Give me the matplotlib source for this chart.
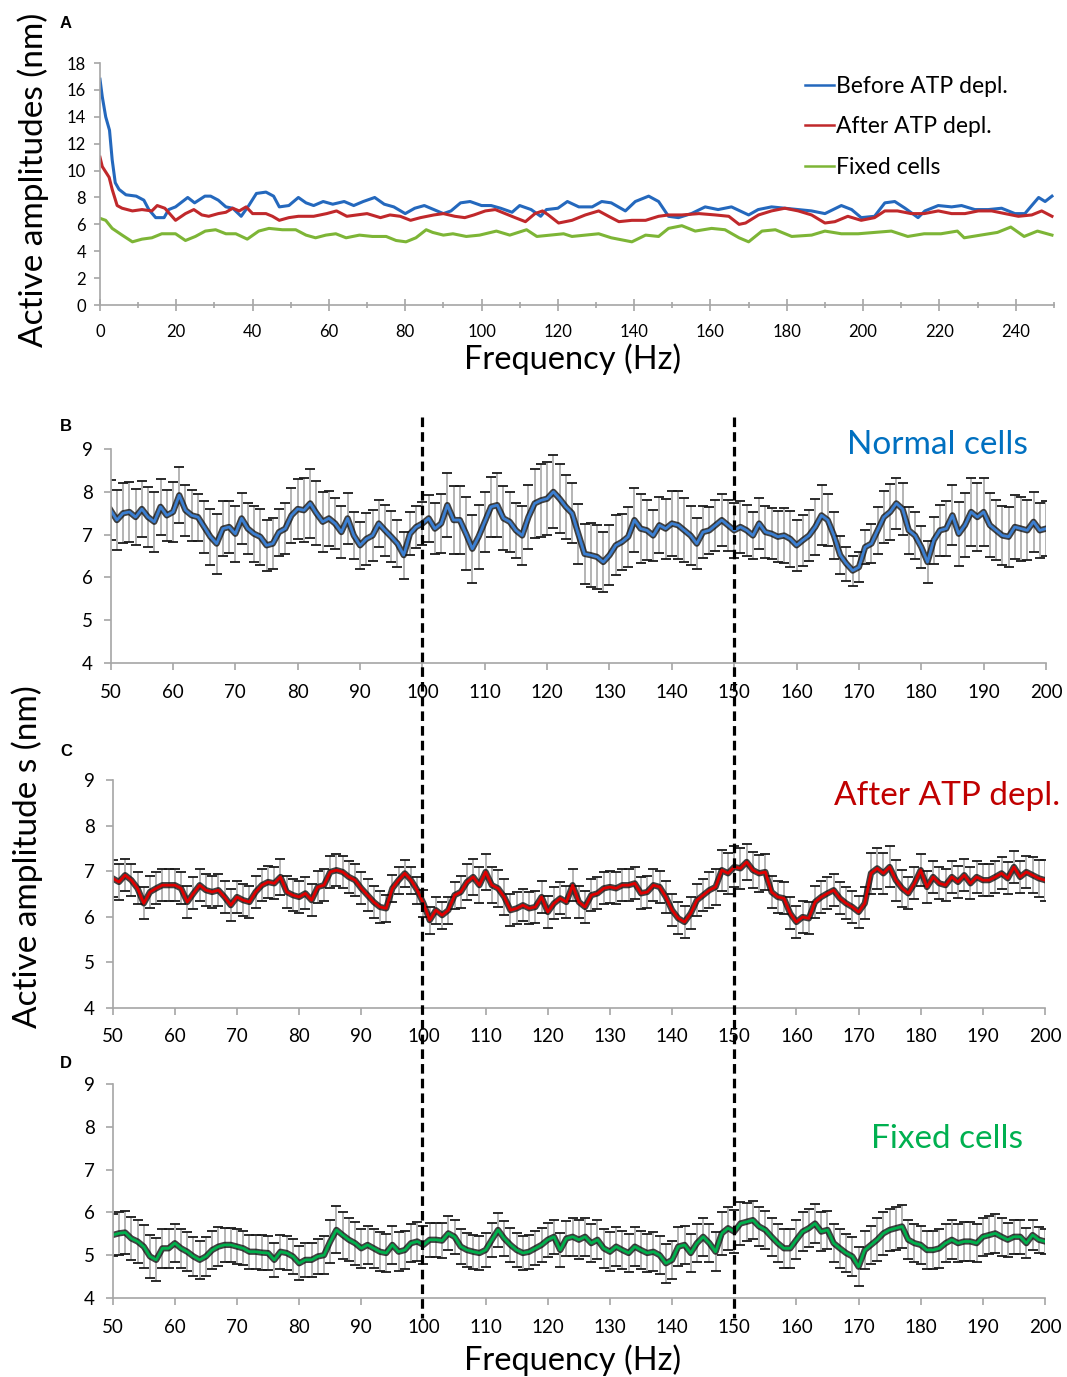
import numpy as np
import matplotlib
matplotlib.use('Agg')
import matplotlib.pyplot as plt
from matplotlib.lines import Line2D
from matplotlib.ticker import MultipleLocator
from matplotlib.transforms import blended_transform_factory

plt.rcParams['font.family'] = ['Lato', 'DejaVu Sans']

# ================= DATA =================
# panel A: (frequency Hz, amplitude nm)
before_atp = [(0, 16.8), (0.6, 15.5), (1.5, 14.0), (2.5, 13.0), (3.2, 10.8), (4, 9.1), (5, 8.6),
              (6.8, 8.2), (9.5, 8.1), (11.5, 7.8), (12.8, 7.1), (14.6, 6.5), (16.8, 6.5), (18, 7.1),
              (19.8, 7.3), (23, 8.0), (24.8, 7.6), (27.5, 8.1), (29, 8.1), (31, 7.8), (33, 7.3),
              (34.8, 7.2), (37, 6.6), (39, 7.4), (41, 8.3), (43.5, 8.4), (45.5, 8.1), (47, 7.3),
              (49.5, 7.4), (52, 8.0), (54, 7.6), (56, 7.4), (58.5, 7.7), (61, 7.5), (64, 7.7),
              (66.5, 7.4), (69, 7.7), (72, 8.0), (74.5, 7.5), (77, 7.3), (80, 6.8), (82.5, 7.2),
              (85, 7.4), (87.5, 7.1), (90, 6.8), (92, 7.0), (94.5, 7.6), (97, 7.7), (100, 7.4),
              (102.5, 7.4), (105, 7.2), (108, 6.9), (110, 7.4), (113, 7.1), (115.5, 6.6), (117, 7.1),
              (120, 7.2), (122.5, 7.7), (125.5, 7.3), (129, 7.3), (131.5, 7.7), (134, 7.6), (137.7, 7.0),
              (140.3, 7.7), (143.8, 8.1), (146.4, 7.7), (149, 6.6), (151.6, 6.5), (155, 6.8), (158.6, 7.3),
              (162, 7.1), (165.5, 7.3), (170, 6.7), (172.5, 7.1), (176, 7.3), (179.5, 7.2), (183, 7.1),
              (186.5, 7.0), (190, 6.8), (194.3, 7.4), (197, 7.1), (199.5, 6.5), (203, 6.6), (205.7, 7.6),
              (208.3, 7.7), (211, 7.2), (214.4, 6.5), (216.2, 7.0), (219.7, 7.4), (223.2, 7.3), (225.8, 7.4),
              (229.3, 7.1), (232.8, 7.1), (236.3, 7.2), (239.8, 6.8), (242.4, 6.8), (244.2, 7.4), (246, 8.0),
              (247.7, 7.7), (249.5, 8.1)]

after_atp = [(0, 11.0), (0.6, 10.3), (2.4, 9.5), (3.2, 8.6), (4.5, 7.4), (5.8, 7.2), (8.5, 7.0),
             (11, 7.1), (13.6, 7.0), (15, 7.4), (17, 7.2), (19.8, 6.3), (22.4, 6.8), (24.6, 7.1),
             (26.7, 6.7), (28.5, 6.6), (31, 6.8), (33, 6.9), (34.8, 7.2), (36.5, 7.0), (38.3, 7.3),
             (40, 6.8), (43.5, 6.8), (45.2, 6.6), (47, 6.3), (49.5, 6.5), (52, 6.6), (56, 6.6),
             (59.4, 6.8), (62, 7.0), (64.7, 6.6), (67.3, 6.7), (70, 6.8), (73.5, 6.5), (76, 6.7),
             (78.7, 6.6), (81.4, 6.3), (84, 6.5), (87.5, 6.7), (90, 6.8), (93, 6.6), (95.6, 6.5),
             (98, 6.7), (101, 7.0), (103.6, 7.1), (106.2, 6.8), (108.8, 6.5), (111.5, 6.2), (114, 6.8),
             (116, 7.0), (117.5, 6.7), (120.2, 6.1), (123.7, 6.3), (127.2, 6.7), (130.7, 7.0),
             (133.3, 6.6), (136, 6.2), (139.4, 6.3), (143, 6.3), (146.4, 6.6), (149, 6.7), (152.5, 6.7),
             (157, 6.8), (161.3, 6.7), (164.8, 6.6), (167.5, 6.0), (169.2, 6.1), (172.6, 6.7), (176, 7.0),
             (179.5, 7.2), (183, 7.0), (186.5, 6.7), (190, 6.1), (192.6, 6.2), (196, 6.6), (199.5, 6.3),
             (203, 6.5), (205.7, 7.0), (209, 7.0), (212.6, 6.8), (216, 6.8), (219.7, 7.0), (223.2, 6.8),
             (226.7, 6.8), (230.2, 7.0), (233.7, 7.0), (237.2, 6.8), (240.7, 6.6), (244.2, 6.7),
             (246.8, 7.0), (249.5, 6.6)]

fixed_a = [(0, 6.45), (1.5, 6.3), (3.2, 5.7), (5.8, 5.2), (8.5, 4.7), (11, 4.9), (13.6, 5.0),
           (16.2, 5.3), (19.8, 5.3), (22.4, 4.8), (25, 5.1), (27.6, 5.5), (30.3, 5.6), (33, 5.3),
           (35.6, 5.3), (38.6, 4.9), (41.6, 5.5), (44.3, 5.7), (47.8, 5.6), (51.3, 5.6), (54, 5.2),
           (56.5, 5.0), (59.2, 5.2), (61.8, 5.3), (64.5, 5.0), (68, 5.2), (71.4, 5.1), (75, 5.1),
           (77.6, 4.8), (80.2, 4.7), (82.8, 5.0), (85.5, 5.6), (87.2, 5.4), (90, 5.2), (92.5, 5.3),
           (96, 5.1), (99.5, 5.2), (103.9, 5.5), (107.4, 5.2), (111.8, 5.6), (114.5, 5.1), (118, 5.2),
           (121.5, 5.3), (123.7, 5.1), (127.2, 5.2), (130.7, 5.3), (134, 5.0), (139.4, 4.7), (143, 5.2),
           (146.4, 5.1), (149, 5.7), (152.5, 5.9), (156, 5.5), (160.3, 5.7), (163.8, 5.6), (167.5, 5.0),
           (170, 4.7), (173.5, 5.5), (177, 5.6), (181.3, 5.1), (186.5, 5.2), (190, 5.5), (194.3, 5.3),
           (198.7, 5.3), (203, 5.4), (207.4, 5.5), (211.7, 5.1), (216, 5.3), (220.4, 5.3), (224.7, 5.5),
           (226.5, 5.0), (230.8, 5.2), (235.2, 5.4), (238.7, 5.8), (242.2, 5.1), (245.7, 5.5), (249.5, 5.2)]

# panels B-D: mean +- error on a 1 Hz grid, 50..200 Hz
freq = np.arange(50, 201)

normal_mean = [7.57, 7.34, 7.5, 7.53, 7.41, 7.6, 7.41, 7.3, 7.65, 7.45,
               7.53, 7.92, 7.57, 7.45, 7.41, 7.18, 6.95, 6.79, 7.14, 7.18,
               7.02, 7.38, 7.14, 7.02, 6.95, 6.75, 6.79, 7.06, 7.14, 7.45,
               7.6, 7.57, 7.73, 7.5, 7.3, 7.38, 7.26, 7.06, 7.38, 6.98,
               6.75, 6.9, 6.98, 7.26, 7.1, 6.95, 6.79, 6.52, 7.02, 7.18,
               7.26, 7.38, 7.14, 7.26, 7.69, 7.34, 7.34, 7.02, 6.67, 6.95,
               7.3, 7.65, 7.69, 7.38, 7.3, 7.1, 6.98, 7.41, 7.73, 7.8,
               7.84, 8.0, 7.84, 7.65, 7.5, 7.02, 6.55, 6.52, 6.48, 6.36,
               6.52, 6.75, 6.83, 6.95, 7.34, 7.14, 7.1, 6.98, 7.22, 7.14,
               7.26, 7.22, 7.1, 6.98, 6.79, 7.06, 7.1, 7.22, 7.34, 7.22,
               7.1, 7.18, 7.1, 6.98, 7.26, 7.06, 7.02, 6.95, 6.98, 6.9,
               6.75, 6.87, 6.98, 7.18, 7.45, 7.34, 6.98, 6.52, 6.32, 6.16,
               6.24, 6.71, 6.79, 7.1, 7.41, 7.53, 7.73, 7.6, 7.1, 6.98,
               6.71, 6.36, 6.87, 7.1, 7.14, 7.45, 7.02, 7.22, 7.53, 7.41,
               7.53, 7.22, 7.1, 6.98, 6.95, 7.18, 7.14, 7.1, 7.3, 7.1,
               7.14]
normal_err = [0.7, 0.7, 0.7, 0.7, 0.65, 0.65, 0.7, 0.7, 0.65, 0.6,
              0.7, 0.65, 0.6, 0.6, 0.55, 0.6, 0.65, 0.7, 0.65, 0.6,
              0.65, 0.6, 0.6, 0.65, 0.65, 0.6, 0.6, 0.55, 0.6, 0.65,
              0.7, 0.75, 0.8, 0.75, 0.7, 0.65, 0.6, 0.6, 0.6, 0.55,
              0.55, 0.6, 0.6, 0.55, 0.6, 0.6, 0.55, 0.55, 0.5, 0.5,
              0.5, 0.55, 0.6, 0.7, 0.75, 0.8, 0.8, 0.85, 0.8, 0.75,
              0.7, 0.7, 0.75, 0.75, 0.7, 0.65, 0.7, 0.75, 0.8, 0.85,
              0.85, 0.85, 0.8, 0.75, 0.7, 0.7, 0.7, 0.75, 0.75, 0.7,
              0.7, 0.7, 0.65, 0.7, 0.75, 0.8, 0.7, 0.6, 0.65, 0.7,
              0.75, 0.8, 0.75, 0.7, 0.6, 0.6, 0.55, 0.6, 0.6, 0.6,
              0.65, 0.6, 0.6, 0.55, 0.6, 0.6, 0.6, 0.6, 0.65, 0.65,
              0.6, 0.6, 0.6, 0.65, 0.7, 0.6, 0.55, 0.45, 0.4, 0.35,
              0.35, 0.4, 0.45, 0.55, 0.6, 0.65, 0.6, 0.6, 0.55, 0.55,
              0.5, 0.5, 0.55, 0.6, 0.65, 0.7, 0.75, 0.75, 0.8, 0.8,
              0.8, 0.75, 0.7, 0.7, 0.7, 0.75, 0.75, 0.7, 0.7, 0.65,
              0.65]

depl_mean = [6.84, 6.76, 6.91, 6.8, 6.62, 6.29, 6.54, 6.62, 6.69, 6.69,
             6.69, 6.62, 6.32, 6.51, 6.69, 6.58, 6.54, 6.58, 6.43, 6.25,
             6.43, 6.36, 6.32, 6.54, 6.69, 6.76, 6.73, 6.87, 6.54, 6.47,
             6.43, 6.51, 6.36, 6.65, 6.69, 6.98, 7.02, 6.98, 6.87, 6.8,
             6.62, 6.47, 6.32, 6.21, 6.18, 6.62, 6.8, 6.95, 6.8, 6.58,
             6.29, 5.92, 6.14, 6.03, 6.14, 6.47, 6.54, 6.76, 6.87, 6.69,
             6.98, 6.69, 6.62, 6.43, 6.14, 6.18, 6.25, 6.18, 6.21, 6.43,
             6.1, 6.29, 6.4, 6.32, 6.69, 6.32, 6.21, 6.47, 6.51, 6.62,
             6.65, 6.62, 6.69, 6.69, 6.73, 6.51, 6.54, 6.69, 6.65, 6.43,
             6.14, 5.96, 5.88, 6.07, 6.36, 6.47, 6.58, 6.65, 7.02, 6.95,
             7.09, 7.06, 7.2, 7.02, 6.95, 6.98, 6.54, 6.43, 6.4, 6.07,
             5.88, 5.99, 5.96, 6.32, 6.43, 6.51, 6.58, 6.4, 6.29, 6.21,
             6.1, 6.29, 6.95, 7.06, 6.95, 7.09, 6.8, 6.62, 6.51, 6.73,
             7.02, 6.65, 6.87, 6.73, 6.69, 6.87, 6.76, 6.91, 6.73, 6.87,
             6.8, 6.8, 6.87, 6.95, 6.84, 7.09, 6.87, 6.98, 6.91, 6.84,
             6.8]
depl_err = [0.4, 0.4, 0.35, 0.35, 0.35, 0.35, 0.35, 0.35, 0.35, 0.35,
            0.35, 0.35, 0.35, 0.35, 0.35, 0.35, 0.35, 0.35, 0.35, 0.35,
            0.35, 0.35, 0.35, 0.35, 0.35, 0.35, 0.35, 0.4, 0.35, 0.35,
            0.35, 0.35, 0.35, 0.35, 0.35, 0.35, 0.35, 0.35, 0.35, 0.35,
            0.35, 0.35, 0.35, 0.35, 0.3, 0.3, 0.3, 0.3, 0.3, 0.3,
            0.3, 0.3, 0.3, 0.3, 0.3, 0.3, 0.35, 0.4, 0.4, 0.4,
            0.4, 0.4, 0.4, 0.4, 0.35, 0.35, 0.35, 0.35, 0.35, 0.35,
            0.35, 0.35, 0.35, 0.35, 0.35, 0.35, 0.35, 0.35, 0.35, 0.35,
            0.35, 0.35, 0.35, 0.35, 0.35, 0.35, 0.35, 0.35, 0.35, 0.35,
            0.35, 0.35, 0.35, 0.35, 0.35, 0.35, 0.4, 0.4, 0.45, 0.45,
            0.45, 0.45, 0.4, 0.4, 0.4, 0.4, 0.35, 0.35, 0.35, 0.35,
            0.35, 0.35, 0.35, 0.35, 0.35, 0.35, 0.35, 0.35, 0.35, 0.35,
            0.35, 0.35, 0.45, 0.45, 0.45, 0.45, 0.45, 0.4, 0.35, 0.35,
            0.35, 0.35, 0.35, 0.35, 0.35, 0.35, 0.35, 0.35, 0.35, 0.35,
            0.35, 0.35, 0.35, 0.35, 0.35, 0.35, 0.35, 0.35, 0.4, 0.4,
            0.45]

fixed_mean = [5.47, 5.51, 5.53, 5.39, 5.32, 5.2, 4.97, 4.89, 5.16, 5.16,
              5.28, 5.16, 5.08, 4.97, 4.89, 4.97, 5.12, 5.2, 5.24, 5.24,
              5.2, 5.16, 5.08, 5.08, 5.06, 5.05, 4.89, 5.08, 5.05, 4.97,
              4.81, 4.89, 4.89, 4.97, 5.0, 5.32, 5.59, 5.47, 5.36, 5.28,
              5.16, 5.24, 5.16, 5.08, 5.05, 5.24, 5.08, 5.12, 5.28, 5.32,
              5.24, 5.36, 5.36, 5.34, 5.51, 5.43, 5.2, 5.12, 5.08, 5.05,
              5.12, 5.36, 5.59, 5.39, 5.24, 5.12, 5.05, 5.08, 5.16, 5.24,
              5.36, 5.43, 5.12, 5.39, 5.43, 5.36, 5.43, 5.28, 5.36, 5.16,
              5.08, 5.2, 5.12, 5.05, 5.2, 5.12, 5.05, 5.08, 5.0, 4.81,
              4.89, 5.2, 5.24, 5.05, 5.28, 5.43, 5.28, 5.08, 5.51, 5.63,
              5.55, 5.74, 5.78, 5.82, 5.67, 5.59, 5.43, 5.28, 5.16, 5.16,
              5.36, 5.55, 5.63, 5.74, 5.55, 5.59, 5.28, 5.16, 5.05, 4.97,
              4.73, 5.12, 5.24, 5.36, 5.51, 5.59, 5.63, 5.67, 5.36, 5.28,
              5.24, 5.12, 5.12, 5.16, 5.28, 5.36, 5.28, 5.32, 5.32, 5.28,
              5.43, 5.47, 5.51, 5.43, 5.36, 5.43, 5.43, 5.28, 5.47, 5.36,
              5.32]
fixed_err = [0.5, 0.5, 0.5, 0.5, 0.5, 0.5, 0.5, 0.5, 0.45, 0.45,
             0.45, 0.45, 0.45, 0.45, 0.45, 0.45, 0.45, 0.45, 0.4, 0.4,
             0.4, 0.4, 0.4, 0.4, 0.4, 0.4, 0.4, 0.4, 0.4, 0.4,
             0.4, 0.4, 0.4, 0.4, 0.45, 0.5, 0.55, 0.55, 0.5, 0.5,
             0.45, 0.45, 0.45, 0.45, 0.45, 0.45, 0.45, 0.45, 0.45, 0.45,
             0.45, 0.4, 0.4, 0.4, 0.4, 0.4, 0.4, 0.4, 0.4, 0.4,
             0.4, 0.4, 0.4, 0.4, 0.4, 0.4, 0.4, 0.4, 0.4, 0.4,
             0.4, 0.4, 0.4, 0.4, 0.45, 0.45, 0.45, 0.45, 0.45, 0.45,
             0.45, 0.45, 0.45, 0.45, 0.45, 0.45, 0.45, 0.45, 0.45, 0.45,
             0.45, 0.45, 0.45, 0.45, 0.45, 0.45, 0.45, 0.45, 0.5, 0.5,
             0.5, 0.5, 0.45, 0.45, 0.45, 0.45, 0.45, 0.45, 0.45, 0.45,
             0.45, 0.45, 0.45, 0.45, 0.45, 0.45, 0.45, 0.45, 0.45, 0.45,
             0.45, 0.45, 0.45, 0.5, 0.5, 0.5, 0.5, 0.5, 0.45, 0.45,
             0.45, 0.45, 0.45, 0.45, 0.45, 0.45, 0.45, 0.45, 0.45, 0.45,
             0.45, 0.45, 0.45, 0.45, 0.4, 0.4, 0.4, 0.35, 0.35, 0.3,
             0.3]

marked_freqs = [100, 150]

# ================= STYLE =================
AXIS_GRAY = '#a6a6a6'
col_a = {'blue': '#2468bd', 'red': '#c0282b', 'green': '#7db536'}


def excel_axes(ax):
    for s in ['top', 'right']:
        ax.spines[s].set_visible(False)
    for s in ['left', 'bottom']:
        ax.spines[s].set_color(AXIS_GRAY)
        ax.spines[s].set_linewidth(1.2)
    ax.tick_params(which='both', color=AXIS_GRAY, width=1.2)


fig = plt.figure(figsize=(10.67, 13.77), dpi=100)

# ================= PANEL A =================
axA = fig.add_axes([0.0937, 0.7785, 0.894, 0.1757])
for data, key, lab in [(before_atp, 'blue', 'Before ATP depl.'),
                       (after_atp, 'red', 'After ATP depl.'),
                       (fixed_a, 'green', 'Fixed cells')]:
    fx, fy = zip(*data)
    axA.plot(fx, fy, color=col_a[key], lw=2.2, label=lab)
axA.set_xlim(0, 250)
axA.set_ylim(0, 18)
axA.xaxis.set_major_locator(MultipleLocator(20))
axA.xaxis.set_minor_locator(MultipleLocator(10))
axA.yaxis.set_major_locator(MultipleLocator(2))
excel_axes(axA)
axA.tick_params(axis='x', which='major', direction='inout', length=8, labelsize=12, pad=10)
axA.tick_params(axis='x', which='minor', direction='inout', length=5)
axA.tick_params(axis='y', direction='out', length=4, labelsize=12, pad=6)
leg = axA.legend(loc='upper left', bbox_to_anchor=(0.7355, 0.960), bbox_transform=fig.transFigure,
                 frameon=False, fontsize=16.5, handlelength=1.25, handletextpad=0.1,
                 labelspacing=0.85)
for h in leg.get_lines():
    h.set_linewidth(1.8)

fig.text(0.031, 0.8695, 'Active amplitudes (nm)', rotation=90, ha='center', va='center', fontsize=24)
fig.text(0.537, 0.739, 'Frequency (Hz)', ha='center', va='center', fontsize=23.5)

# ================= PANELS B-D =================
rects = [[0.1037, 0.5185, 0.8766, 0.1554],
         [0.1056, 0.2683, 0.8738, 0.1652],
         [0.1056, 0.0574, 0.8738, 0.1554]]
series = [(normal_mean, normal_err, '#3b7fd2'),
          (depl_mean, depl_err, '#e00000'),
          (fixed_mean, fixed_err, '#00b04c')]

axes = []
for rect, (m, e, c) in zip(rects, series):
    ax = fig.add_axes(rect)
    m = np.array(m)
    e = np.array(e)
    ax.errorbar(freq, m, yerr=e, fmt='none', ecolor='#a0a0a0', elinewidth=1.1, capsize=0)
    ax.plot(freq, m + e, ls='none', marker='_', ms=7, mew=1.3, color='#1a1a1a')
    ax.plot(freq, m - e, ls='none', marker='_', ms=7, mew=1.3, color='#1a1a1a')
    ax.plot(freq, m, color='#111111', lw=4.5, alpha=0.8)
    ax.plot(freq, m, color=c, lw=2.0)
    ax.set_xlim(50, 200)
    ax.set_ylim(4, 9)
    ax.xaxis.set_major_locator(MultipleLocator(10))
    ax.yaxis.set_major_locator(MultipleLocator(1))
    excel_axes(ax)
    ax.tick_params(axis='x', direction='out', length=5, labelsize=13.5, pad=10)
    ax.tick_params(axis='y', direction='out', length=5, labelsize=13.5, pad=8)
    axes.append(ax)

# dashed markers running through B, C and D
for f in marked_freqs:
    tr = blended_transform_factory(axes[0].transData, fig.transFigure)
    fig.add_artist(Line2D([f, f], [0.697, 0.043], transform=tr, color='black',
                          lw=2.3, ls=(0, (3, 1.6))))

fig.text(0.879, 0.677, 'Normal cells', ha='center', va='center', fontsize=24, color='#0070c0')
fig.text(0.8876, 0.422, 'After ATP depl.', ha='center', va='center', fontsize=24, color='#c00000')
fig.text(0.8876, 0.1728, 'Fixed cells', ha='center', va='center', fontsize=24, color='#00b050')

fig.text(0.0253, 0.378, 'Active amplitude s (nm)', rotation=90, ha='center', va='center', fontsize=24)
fig.text(0.537, 0.0123, 'Frequency (Hz)', ha='center', va='center', fontsize=23.5)

# panel letters
for lab, y in [('A', 0.983), ('B', 0.6906), ('C', 0.4546), ('D', 0.228)]:
    fig.text(0.0619, y, lab, ha='center', va='center', fontsize=12, fontweight='bold',
             family='Liberation Sans')

fig.savefig('out.png', dpi=100)
